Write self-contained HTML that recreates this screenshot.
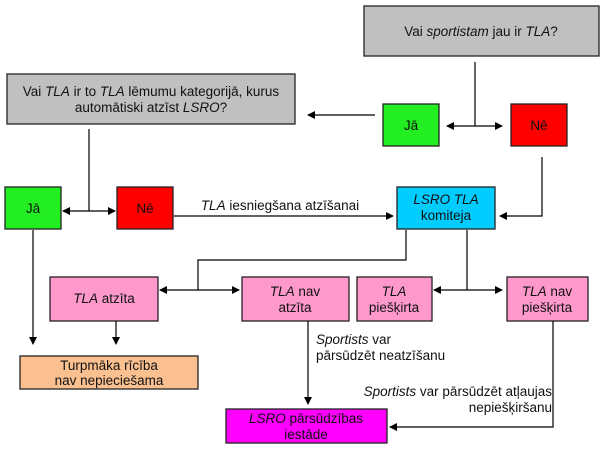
<!DOCTYPE html>
<html><head><meta charset="utf-8"><style>
body{margin:0;background:#fff}
svg{display:block}
text{font-family:"Liberation Sans",Arial,sans-serif;font-size:13.5px;fill:#111}
.b{stroke:#222;stroke-width:1.3}
</style></head><body>
<svg width="602" height="451" viewBox="0 0 602 451">
<defs><marker id="a" markerWidth="8" markerHeight="8" refX="7" refY="4" orient="auto-start-reverse" markerUnits="userSpaceOnUse"><path d="M0,0 L8,4 L0,8 z" fill="#000"/></marker></defs>
<rect class="b" x="364" y="6" width="235" height="50" fill="#c0c0c0"/>
<rect class="b" x="7" y="74" width="288" height="50" fill="#c0c0c0"/>
<rect class="b" x="383" y="104" width="56" height="42" fill="#22ee22"/>
<rect class="b" x="511" y="104" width="56" height="42" fill="#ff0000"/>
<rect class="b" x="5" y="187" width="56" height="42" fill="#22ee22"/>
<rect class="b" x="117" y="187" width="56" height="42" fill="#ff0000"/>
<rect class="b" x="397" y="187" width="98" height="42" fill="#00ccff"/>
<rect class="b" x="50" y="277" width="108" height="44" fill="#ff99cc"/>
<rect class="b" x="242" y="277" width="107" height="44" fill="#ff99cc"/>
<rect class="b" x="357" y="277" width="75" height="44" fill="#ff99cc"/>
<rect class="b" x="507" y="277" width="81" height="44" fill="#ff99cc"/>
<rect class="b" x="20" y="356" width="178" height="33" fill="#fac090"/>
<rect class="b" x="226" y="409" width="161" height="34" fill="#ff00ff"/>
<g stroke="#000" stroke-width="1.2" fill="none">
<line x1="375" y1="115" x2="308" y2="115" marker-end="url(#a)"/>
<line x1="475" y1="62" x2="475" y2="126"/>
<line x1="447" y1="126" x2="502" y2="126" marker-start="url(#a)" marker-end="url(#a)"/>
<polyline points="542,157 542,216 500,216" marker-end="url(#a)"/>
<line x1="89" y1="129" x2="89" y2="211"/>
<line x1="63" y1="211" x2="115" y2="211" marker-start="url(#a)" marker-end="url(#a)"/>
<line x1="174" y1="216" x2="393" y2="216" marker-end="url(#a)"/>
<line x1="467" y1="230" x2="467" y2="290"/>
<line x1="434" y1="290" x2="502" y2="290" marker-start="url(#a)" marker-end="url(#a)"/>
<polyline points="406,230 406,260 198,260 198,290"/>
<line x1="160" y1="290" x2="239" y2="290" marker-start="url(#a)" marker-end="url(#a)"/>
<line x1="33" y1="230" x2="33" y2="344" marker-end="url(#a)"/>
<line x1="116" y1="321" x2="116" y2="344" marker-end="url(#a)"/>
<line x1="308" y1="321" x2="308" y2="404" marker-end="url(#a)"/>
<polyline points="553,321 553,427 390,427" marker-end="url(#a)"/>
</g>
<g text-anchor="middle">
<text x="481" y="36">Vai <tspan font-style="italic">sportistam</tspan> jau ir <tspan font-style="italic">TLA</tspan>?</text>
<text x="151" y="96">Vai <tspan font-style="italic">TLA</tspan> ir to <tspan font-style="italic">TLA</tspan> lēmumu kategorijā, kurus</text>
<text x="151" y="112">automātiski atzīst <tspan font-style="italic">LSRO</tspan>?</text>
<text x="411" y="130">Jā</text>
<text x="539" y="130">Nē</text>
<text x="33" y="213">Jā</text>
<text x="145" y="213">Nē</text>
<text x="280" y="210"><tspan font-style="italic">TLA</tspan> iesniegšana atzīšanai</text>
<text x="446" y="204" font-style="italic">LSRO TLA</text>
<text x="446" y="220">komiteja</text>
<text x="104" y="303"><tspan font-style="italic">TLA</tspan> atzīta</text>
<text x="295" y="296"><tspan font-style="italic">TLA</tspan> nav</text>
<text x="295" y="312">atzīta</text>
<text x="394" y="296" font-style="italic">TLA</text>
<text x="394" y="312">piešķirta</text>
<text x="547" y="296"><tspan font-style="italic">TLA</tspan> nav</text>
<text x="547" y="312">piešķirta</text>
<text x="109" y="370">Turpmāka rīcība</text>
<text x="109" y="385">nav nepieciešama</text>
<text x="306" y="423"><tspan font-style="italic">LSRO</tspan> pārsūdzības</text>
<text x="306" y="439">iestāde</text>
</g>
<text x="316" y="344"><tspan font-style="italic">Sportists</tspan> var</text>
<text x="316" y="360">pārsūdzēt neatzīšanu</text>
<g text-anchor="end">
<text x="552" y="396"><tspan font-style="italic">Sportists</tspan> var pārsūdzēt atļaujas</text>
<text x="552" y="412">nepiešķiršanu</text>
</g>
</svg>
</body></html>
